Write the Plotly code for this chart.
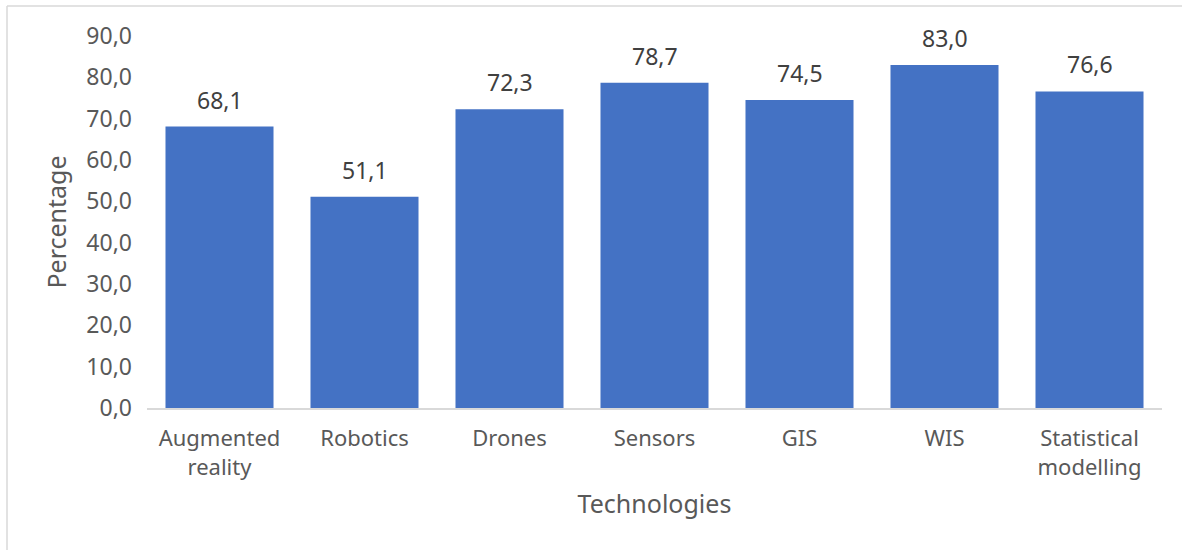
import plotly.graph_objects as go

categories = ["Augmented<br>reality", "Robotics", "Drones", "Sensors", "GIS", "WIS", "Statistical<br>modelling"]
values = [68.1, 51.1, 72.3, 78.7, 74.5, 83.0, 76.6]
y_ticks = [0, 10, 20, 30, 40, 50, 60, 70, 80, 90]

FONT = "Noto Sans"

W, H = 1182, 550
L, T, R = 147, 36, 20
B = H - 408
PW = W - L - R
PH = H - T - B

fig = go.Figure(go.Bar(
    x=categories, y=values,
    marker=dict(color="#4472C4", line=dict(width=0)),
    hoverinfo="x+y",
))

for c, v in zip(categories, values):
    fig.add_annotation(
        x=c, y=v, xref="x", yref="y", yanchor="bottom", yshift=9,
        text=f"{v:.1f}".replace(".", ","), showarrow=False,
        font=dict(family=FONT, size=23, color="#404040"),
    )

def px_x(p):
    return (p - L) / PW

def px_y(p):
    return (H - B - p) / PH

fig.update_layout(
    width=W, height=H,
    margin=dict(l=L, r=R, t=T, b=B),
    paper_bgcolor="white", plot_bgcolor="white",
    separators=",.",
    bargap=0.255,
    showlegend=False,
    font=dict(family=FONT, size=22, color="#595959"),
    xaxis=dict(
        showgrid=False, showline=True, linecolor="#d9d9d9", linewidth=1.5,
        ticks="", ticklabelstandoff=10,
        tickfont=dict(family=FONT, size=22, color="#595959"),
        title=dict(text="Technologies", font=dict(family=FONT, size=25, color="#595959"), standoff=16),
    ),
    yaxis=dict(
        range=[0, 90], tickvals=y_ticks, tickformat=".1f",
        showgrid=False, zeroline=False, showline=False, ticks="",
        ticklabelstandoff=14,
        tickfont=dict(family=FONT, size=23, color="#595959"),
        title=dict(text="Percentage", font=dict(family=FONT, size=25, color="#595959"), standoff=12),
    ),
    shapes=[
        dict(type="line", xref="paper", yref="paper", x0=px_x(7), x1=px_x(7),
             y0=px_y(6), y1=px_y(600), line=dict(color="#d9d9d9", width=1.5)),
        dict(type="line", xref="paper", yref="paper", x0=px_x(7), x1=px_x(1250),
             y0=px_y(6), y1=px_y(6), line=dict(color="#d9d9d9", width=1.5)),
    ],
)

fig.write_html("out.html", config={"displayModeBar": False},
               post_script="document.body.style.margin='0';")
